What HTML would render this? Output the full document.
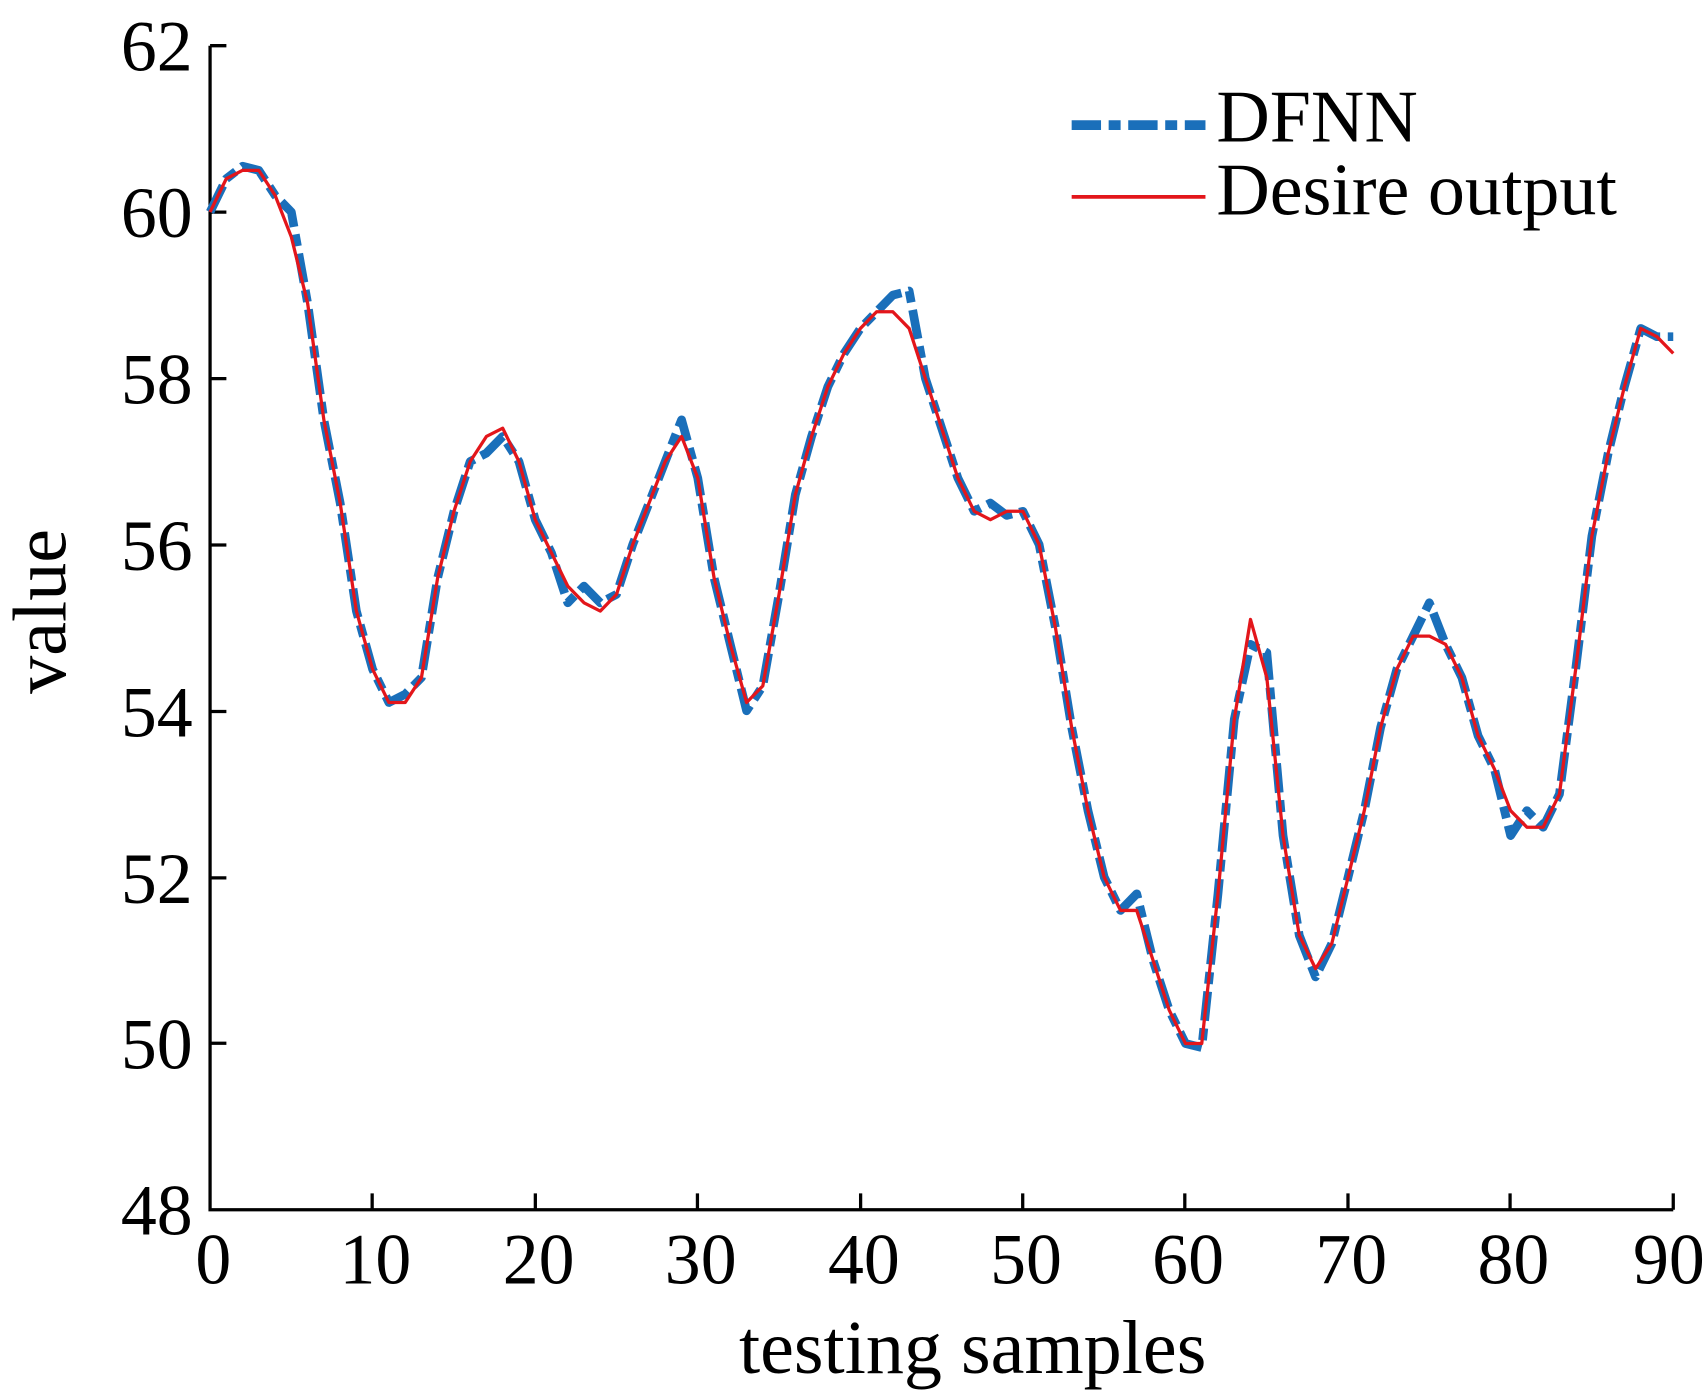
<!DOCTYPE html>
<html><head><meta charset="utf-8"><style>html,body{margin:0;padding:0;background:#fff}svg{display:block}</style></head>
<body>
<svg width="1706" height="1399" viewBox="0 0 1568 1286" xmlns="http://www.w3.org/2000/svg" font-family="Liberation Serif, serif">
<g stroke="#000" stroke-width="3" fill="none">
<path d="M193,42 V1112 H1538"/>
<path d="M193,42 h15 M193,195 h15 M193,348 h15 M193,501 h15 M193,654 h15 M193,807 h15 M193,959 h15"/>
<path d="M342,1112 v-15 M492,1112 v-15 M641,1112 v-15 M791,1112 v-15 M940,1112 v-15 M1089,1112 v-15 M1239,1112 v-15 M1388,1112 v-15 M1538,1112 v-15"/>
</g>
<g font-size="66" fill="#000" text-anchor="end">
<text x="177" y="65">62</text><text x="177" y="218">60</text><text x="177" y="371">58</text><text x="177" y="524">56</text><text x="177" y="677">54</text><text x="177" y="830">52</text><text x="177" y="982">50</text><text x="177" y="1135">48</text>
</g>
<g font-size="66" fill="#000" text-anchor="middle">
<text x="196" y="1180">0</text><text x="345" y="1180">10</text><text x="495" y="1180">20</text><text x="644" y="1180">30</text><text x="794" y="1180">40</text><text x="943" y="1180">50</text><text x="1092" y="1180">60</text><text x="1242" y="1180">70</text><text x="1391" y="1180">80</text><text x="1534" y="1180">90</text>
</g>
<text x="894" y="1262" font-size="70" text-anchor="middle">testing samples</text>
<text transform="translate(60,562) rotate(-90)" font-size="70" text-anchor="middle">value</text>
<polyline id="b" fill="none" stroke="#1a6fba" stroke-width="8" stroke-linejoin="round" stroke-dasharray="27,7,11,7" points=""/>
<polyline id="r" fill="none" stroke="#e3161b" stroke-width="3" stroke-linejoin="round" points=""/>
<line x1="985" y1="115" x2="1108" y2="115" stroke="#1a6fba" stroke-width="9" stroke-dasharray="27,7,11,7"/>
<line x1="985" y1="181" x2="1108" y2="181" stroke="#e3161b" stroke-width="3.5"/>
<text x="1118" y="130" font-size="68">DFNN</text>
<text x="1118" y="197" font-size="68">Desire output</text>
<script>
var r=[60.0,60.4,60.5,60.5,60.2,59.7,58.9,57.5,56.5,55.2,54.5,54.1,54.1,54.4,55.6,56.4,57.0,57.3,57.4,57.0,56.3,55.9,55.5,55.3,55.2,55.4,56.0,56.5,57.0,57.3,56.8,55.6,54.8,54.1,54.3,55.4,56.6,57.3,57.9,58.3,58.6,58.8,58.8,58.6,58.0,57.4,56.8,56.4,56.3,56.4,56.4,56.0,55.0,53.8,52.8,52.0,51.6,51.6,51.0,50.4,50.0,50.0,51.8,53.9,55.1,54.4,52.5,51.3,50.9,51.2,52.0,52.8,53.8,54.5,54.9,54.9,54.8,54.4,53.7,53.3,52.8,52.6,52.6,53.0,54.5,56.1,57.1,57.9,58.6,58.5,58.3];
var b=r.slice();var m={2:60.55,5:60.0,12:54.2,17:57.1,18:57.3,22:55.3,23:55.5,24:55.3,29:57.5,33:54.0,42:59.0,43:59.05,48:56.5,49:56.35,50:56.4,57:51.8,61:49.95,64:54.8,65:54.7,68:50.8,75:55.3,80:52.5,81:52.8,82:52.6,89:58.5,90:58.5};
for(var k in m)b[k]=m[k];
function p(a){return a.map(function(v,i){return (193+i*14.944).toFixed(1)+','+(42+(62-v)*76.43).toFixed(1)}).join(' ')}
document.getElementById('b').setAttribute('points',p(b));
document.getElementById('r').setAttribute('points',p(r));
</script>
</svg>
</body></html>
